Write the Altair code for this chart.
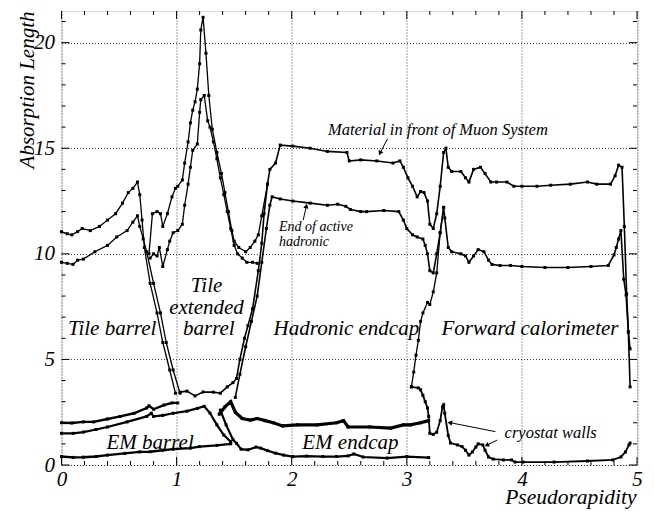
import altair as alt
import pandas as pd

SERIF = "Liberation Serif"
W, H = 575.5, 454.0

# ---------------- curves: (pseudorapidity, absorption length) ----------------
muon_barrel = [(0.0, 11.05), (0.05, 10.95), (0.09, 10.9), (0.14, 11.05), (0.18, 11.2), (0.25, 11.1),
               (0.33, 11.3), (0.40, 11.6), (0.47, 11.9), (0.53, 12.4), (0.58, 12.9), (0.62, 13.1),
               (0.66, 13.4), (0.68, 12.8), (0.70, 11.6), (0.72, 10.3), (0.77, 8.6), (0.83, 7.2),
               (0.88, 5.8), (0.94, 4.5), (0.99, 3.4)]
active_barrel = [(0.0, 9.6), (0.05, 9.55), (0.10, 9.5), (0.14, 9.7), (0.19, 9.75), (0.29, 10.1),
                 (0.40, 10.4), (0.48, 10.8), (0.57, 11.1), (0.62, 11.5), (0.66, 11.8), (0.68, 11.3),
                 (0.71, 10.7), (0.74, 10.1), (0.80, 8.6), (0.86, 7.2), (0.91, 5.8), (0.97, 4.5),
                 (1.03, 3.4)]
muon_ext = [(0.76, 10.0), (0.79, 11.9), (0.83, 12.0), (0.86, 11.9), (0.88, 11.3), (0.92, 11.9),
            (0.96, 12.7), (0.99, 13.1), (1.01, 13.2), (1.05, 13.5), (1.07, 14.3), (1.10, 15.3),
            (1.12, 16.2), (1.14, 16.8), (1.16, 17.2), (1.18, 17.8), (1.20, 19.0), (1.21, 20.6),
            (1.23, 21.2), (1.255, 19.5), (1.28, 17.5), (1.31, 15.9), (1.35, 14.8), (1.39, 13.8),
            (1.42, 12.9), (1.45, 12.0), (1.48, 11.1), (1.50, 10.6), (1.54, 10.3), (1.60, 10.1),
            (1.64, 10.3), (1.68, 10.6), (1.71, 10.9), (1.74, 11.8), (1.79, 13.3)]
active_ext = [(0.77, 9.8), (0.80, 10.0), (0.83, 9.9), (0.85, 10.3), (0.88, 9.4), (0.92, 10.2),
              (0.94, 10.6), (0.97, 11.0), (1.01, 11.1), (1.05, 11.4), (1.07, 12.3), (1.10, 13.3),
              (1.12, 14.1), (1.14, 14.9), (1.18, 15.2), (1.20, 16.7), (1.21, 17.3), (1.24, 17.5),
              (1.27, 16.3), (1.29, 16.0), (1.32, 15.3), (1.35, 14.5), (1.38, 13.6), (1.41, 12.8),
              (1.44, 12.0), (1.47, 11.2), (1.50, 10.4), (1.53, 10.0), (1.57, 9.8), (1.61, 9.6),
              (1.66, 9.6), (1.70, 9.55)]
muon_endcap = [(1.03, 3.45), (1.09, 3.5), (1.16, 3.27), (1.23, 3.46), (1.32, 3.45), (1.38, 3.4),
               (1.44, 3.7), (1.49, 3.9), (1.52, 4.1), (1.55, 5.0), (1.59, 6.0), (1.62, 6.6),
               (1.66, 7.4), (1.71, 9.2), (1.74, 10.5), (1.76, 11.9), (1.79, 13.3), (1.81, 14.0),
               (1.86, 14.3), (1.90, 15.15), (2.01, 15.1), (2.16, 15.0), (2.31, 14.85), (2.48, 14.8),
               (2.50, 14.4), (2.60, 14.45), (2.74, 14.4), (2.88, 14.3), (2.94, 14.4), (2.97, 14.1),
               (3.01, 13.6), (3.05, 13.2), (3.09, 12.7), (3.12, 12.95), (3.15, 12.9), (3.18, 12.5),
               (3.20, 11.4), (3.23, 11.2), (3.26, 11.9), (3.29, 13.2), (3.32, 14.8), (3.34, 15.0),
               (3.36, 14.1), (3.39, 13.9), (3.47, 13.9), (3.51, 13.6), (3.54, 13.4), (3.58, 14.0),
               (3.64, 14.1), (3.68, 13.8), (3.73, 13.4), (3.78, 13.4), (3.87, 13.4), (3.93, 13.2),
               (4.00, 13.2), (4.13, 13.2), (4.25, 13.25), (4.42, 13.3), (4.57, 13.4), (4.65, 13.3),
               (4.77, 13.3), (4.81, 13.7), (4.84, 14.2), (4.87, 14.1), (4.89, 11.3), (4.91, 8.1),
               (4.925, 6.3), (4.94, 3.7)]
active_endcap = [(1.51, 3.2), (1.55, 4.3), (1.60, 5.6), (1.65, 6.8), (1.70, 8.0), (1.74, 9.6),
                 (1.78, 11.2), (1.81, 12.3), (1.83, 12.7), (1.90, 12.6), (2.01, 12.5), (2.16, 12.4),
                 (2.31, 12.3), (2.40, 12.35), (2.47, 12.25), (2.51, 12.1), (2.60, 12.0), (2.65, 12.0),
                 (2.80, 12.05), (2.93, 12.0), (2.97, 11.6), (3.00, 11.2), (3.05, 10.9), (3.09, 10.8),
                 (3.14, 10.7), (3.16, 10.4), (3.18, 10.0), (3.20, 9.2), (3.23, 9.1), (3.26, 10.0),
                 (3.29, 11.0), (3.32, 12.2), (3.33, 11.7), (3.36, 10.3), (3.39, 10.1), (3.47, 10.0),
                 (3.51, 9.9), (3.54, 9.6), (3.58, 9.9), (3.62, 10.2), (3.67, 10.1), (3.71, 9.7),
                 (3.74, 9.5), (3.81, 9.45), (3.90, 9.45), (4.00, 9.4), (4.20, 9.35), (4.40, 9.35),
                 (4.60, 9.4), (4.75, 9.45), (4.80, 9.95), (4.82, 10.3), (4.84, 10.7), (4.86, 11.1),
                 (4.885, 8.8), (4.905, 8.05), (4.925, 6.3), (4.94, 5.5)]
fcal_edge = [(3.04, 3.7), (3.06, 4.4), (3.08, 5.2), (3.10, 5.9), (3.12, 6.8), (3.14, 7.2),
             (3.18, 7.7), (3.20, 7.6), (3.23, 8.2), (3.26, 9.1), (3.29, 11.0), (3.32, 12.2)]
front_barrel = [(0.0, 2.0), (0.09, 1.99), (0.19, 2.04), (0.28, 2.04), (0.40, 2.18), (0.51, 2.3),
                (0.63, 2.45), (0.74, 2.7), (0.76, 2.8), (0.80, 2.64), (0.89, 2.84), (0.96, 2.94),
                (1.01, 2.94)]
em_barrel_back = [(0.0, 1.5), (0.10, 1.5), (0.19, 1.56), (0.30, 1.68), (0.40, 1.8), (0.57, 2.04),
                  (0.74, 2.3), (0.78, 2.45), (0.80, 2.3), (0.88, 2.35), (0.97, 2.45), (1.09, 2.55),
                  (1.18, 2.68), (1.24, 2.78), (1.29, 2.46), (1.35, 1.9), (1.41, 1.42), (1.47, 1.1)]
em_barrel_front = [(0.0, 0.4), (0.10, 0.36), (0.19, 0.37), (0.30, 0.4), (0.40, 0.47), (0.55, 0.55),
                   (0.68, 0.62), (0.77, 0.63), (0.88, 0.7), (0.97, 0.75), (1.12, 0.8), (1.20, 0.87),
                   (1.35, 0.93), (1.47, 1.0)]
em_endcap_back = [(1.37, 2.4), (1.42, 2.75), (1.47, 3.0), (1.51, 2.5), (1.57, 2.2), (1.64, 2.13),
                  (1.70, 2.2), (1.77, 2.1), (1.84, 2.0), (1.92, 1.85), (2.05, 1.9), (2.22, 1.9),
                  (2.39, 2.0), (2.45, 2.1), (2.49, 1.8), (2.68, 1.8), (2.86, 1.75), (2.97, 1.9),
                  (3.03, 1.9), (3.12, 2.0), (3.19, 2.1)]
em_endcap_front = [(1.38, 2.6), (1.43, 1.9), (1.49, 1.2), (1.52, 1.03), (1.56, 0.75), (1.62, 0.72),
                   (1.69, 0.85), (1.73, 0.8), (1.79, 0.68), (1.86, 0.56), (1.93, 0.47), (2.01, 0.4),
                   (2.13, 0.42), (2.27, 0.4), (2.39, 0.4), (2.49, 0.43), (2.54, 0.52), (2.62, 0.38),
                   (2.83, 0.33), (3.00, 0.4), (3.19, 0.35)]
fcal_front = [(3.04, 3.7), (3.10, 3.65), (3.12, 3.56), (3.14, 3.3), (3.16, 3.0), (3.18, 2.7),
              (3.19, 2.3), (3.20, 1.5), (3.23, 1.45), (3.26, 1.55), (3.29, 2.1), (3.31, 2.75),
              (3.32, 2.85), (3.33, 2.45), (3.36, 1.4), (3.38, 1.04), (3.44, 0.95), (3.48, 0.87),
              (3.51, 0.7), (3.54, 0.47), (3.57, 0.62), (3.60, 0.85), (3.62, 1.0), (3.66, 0.95),
              (3.68, 0.7), (3.71, 0.38), (3.75, 0.28), (3.84, 0.24), (3.91, 0.24), (3.94, 0.14),
              (4.01, 0.14), (4.28, 0.14), (4.57, 0.19), (4.79, 0.24), (4.86, 0.38), (4.90, 0.62),
              (4.93, 0.95), (4.94, 1.04)]

# line width per curve (dense-marker curves look heavier)
curves = {
    "muon_barrel": (muon_barrel, 1.3), "active_barrel": (active_barrel, 1.3),
    "muon_ext": (muon_ext, 1.3), "active_ext": (active_ext, 1.3),
    "muon_endcap": (muon_endcap, 1.6), "active_endcap": (active_endcap, 1.6),
    "fcal_edge": (fcal_edge, 1.3), "front_barrel": (front_barrel, 2.4),
    "em_barrel_back": (em_barrel_back, 2.2), "em_barrel_front": (em_barrel_front, 2.4),
    "em_endcap_back": (em_endcap_back, 3.2), "em_endcap_front": (em_endcap_front, 2.2),
    "fcal_front": (fcal_front, 1.8),
}

# axis ticks
x_major = [0, 1, 2, 3, 4, 5]
x_minor = [0.2, 0.4, 0.6, 0.8, 1.2, 1.4, 1.6, 1.8, 2.2, 2.4, 2.6, 2.8, 3.2, 3.4, 3.6, 3.8,
           4.2, 4.4, 4.6, 4.8]
y_major = [0, 5, 10, 15, 20]
y_minor = [1, 2, 3, 4, 6, 7, 8, 9, 11, 12, 13, 14, 16, 17, 18, 19, 21]

# region labels
big_labels = ["Tile barrel", "Tile", "extended", "barrel", "Hadronic endcap",
              "Forward calorimeter", "EM barrel", "EM endcap"]
big_eta = [0.44, 1.26, 1.26, 1.28, 2.475, 4.07, 0.77, 2.51]
big_val = [6.45, 8.48, 7.44, 6.45, 6.45, 6.45, 1.04, 1.04]

small_labels = ["Material in front of Muon System", "cryostat walls"]
small_eta = [3.27, 4.25]
small_val = [15.88, 1.52]

left_labels = ["End of active", "hadronic"]
left_eta = [1.89, 1.89]
left_val = [11.25, 10.55]

# annotation arrows: start -> head
arrow_x1 = [2.833, 2.10, 3.77, 3.785]
arrow_y1 = [15.45, 11.6, 1.58, 1.18]
arrow_x2 = [2.77, 2.126, 3.38, 3.70]
arrow_y2 = [14.8, 12.23, 2.0, 0.95]
arrow_angle = [206.6, 11.3, 281.3, 243.4]

# ---------------- build ----------------
rows = []
for name, (pts, w) in curves.items():
    for i, (e, v) in enumerate(pts):
        rows.append({"seg": name, "i": i, "eta": e, "val": v, "w": w})
df = pd.DataFrame(rows)

xs = alt.Scale(domain=[0, 5], nice=False, zero=False)
ys = alt.Scale(domain=[0, 21.5], nice=False, zero=False)

x_axis = alt.Axis(values=x_major, format="d", labelFont=SERIF, labelFontStyle="italic",
                  labelFontSize=21, labelColor="black", labelPadding=3, labelFlush=False,
                  labelOverlap=False, ticks=False, domain=False, grid=True, gridColor="black",
                  gridDash=[1, 2], gridWidth=1, gridOpacity=0.75,
                  title="Pseudorapidity", titleFont=SERIF, titleFontStyle="italic",
                  titleFontWeight="normal", titleFontSize=21.5, titleColor="black",
                  titleAlign="right", titleBaseline="alphabetic", titleX=W - 1, titleY=38)
y_axis = alt.Axis(values=y_major, format="d", labelFont=SERIF, labelFontStyle="italic",
                  labelFontSize=21, labelColor="black", labelPadding=7, labelFlush=False,
                  labelOverlap=False, ticks=False, domain=False, grid=True, gridColor="black",
                  gridDash=[1, 2], gridWidth=1, gridOpacity=0.75,
                  title="Absorption Length", titleFont=SERIF, titleFontStyle="italic",
                  titleFontWeight="normal", titleFontSize=21, titleColor="black",
                  titleAngle=270, titleAlign="right", titleBaseline="middle",
                  titleX=-34.5, titleY=0)

X = lambda f: alt.X(f, scale=xs, axis=x_axis)
Y = lambda f: alt.Y(f, scale=ys, axis=y_axis)

lines = alt.Chart(df).mark_line(color="black", strokeJoin="miter").encode(
    x=X("eta:Q"), y=Y("val:Q"),
    detail="seg:N",
    order="i:Q",
    strokeWidth=alt.StrokeWidth("w:Q", scale=None),
)
markers = alt.Chart(df).mark_point(shape="square", filled=True, color="black", size=9,
                                   opacity=1).encode(x=X("eta:Q"), y=Y("val:Q"))


def xticks(vals, length, top):
    d = pd.DataFrame({"eta": vals})
    y0 = 0 if top else H
    y1 = length if top else H - length
    return alt.Chart(d).mark_rule(color="black", strokeWidth=1).encode(
        x=X("eta:Q"), y=alt.value(y0), y2=alt.value(y1))


def yticks(vals, length, right):
    d = pd.DataFrame({"val": vals})
    x0 = W if right else 0
    x1 = W - length if right else length
    return alt.Chart(d).mark_rule(color="black", strokeWidth=1).encode(
        y=Y("val:Q"), x=alt.value(x0), x2=alt.value(x1))


ticks = [xticks(x_major, 8, False), xticks(x_minor, 4, False),
         xticks(x_major, 8, True), xticks(x_minor, 4, True),
         yticks(y_major, 8, False), yticks(y_minor, 4, False),
         yticks(y_major, 8, True), yticks(y_minor, 4, True)]

big = alt.Chart(pd.DataFrame({"eta": big_eta, "val": big_val, "t": big_labels})).mark_text(
    font=SERIF, fontStyle="italic", fontSize=21, color="black", align="center",
    baseline="middle").encode(x=X("eta:Q"), y=Y("val:Q"), text="t:N")
small = alt.Chart(pd.DataFrame({"eta": small_eta, "val": small_val, "t": small_labels})).mark_text(
    font=SERIF, fontStyle="italic", fontSize=16.5, color="black", align="center",
    baseline="middle").encode(x=X("eta:Q"), y=Y("val:Q"), text="t:N")
left = alt.Chart(pd.DataFrame({"eta": left_eta, "val": left_val, "t": left_labels})).mark_text(
    font=SERIF, fontStyle="italic", fontSize=14, color="black", align="left",
    baseline="middle").encode(x=X("eta:Q"), y=Y("val:Q"), text="t:N")

arr_df = pd.DataFrame({"eta": arrow_x1, "val": arrow_y1, "x2": arrow_x2, "y2": arrow_y2,
                       "ang": arrow_angle})
arrow_lines = alt.Chart(arr_df).mark_rule(color="black", strokeWidth=1).encode(
    x=X("eta:Q"), y=Y("val:Q"), x2="x2:Q", y2="y2:Q")
arrow_heads = alt.Chart(arr_df).mark_point(shape="triangle", filled=True, color="black",
                                           size=28, opacity=1).encode(
    x=X("x2:Q"), y=Y("y2:Q"), angle=alt.Angle("ang:Q", scale=None))

chart = alt.layer(lines, markers, *ticks, big, small, left, arrow_lines, arrow_heads).properties(
    width=W, height=H,
    padding={"left": 53.5, "top": 3, "right": 9, "bottom": 45},
    autosize=alt.AutoSizeParams(type="none"),
).configure_view(stroke="black", strokeWidth=1.6).configure(background="white")

chart.save("out.html", embed_options={"renderer": "svg", "actions": False})
